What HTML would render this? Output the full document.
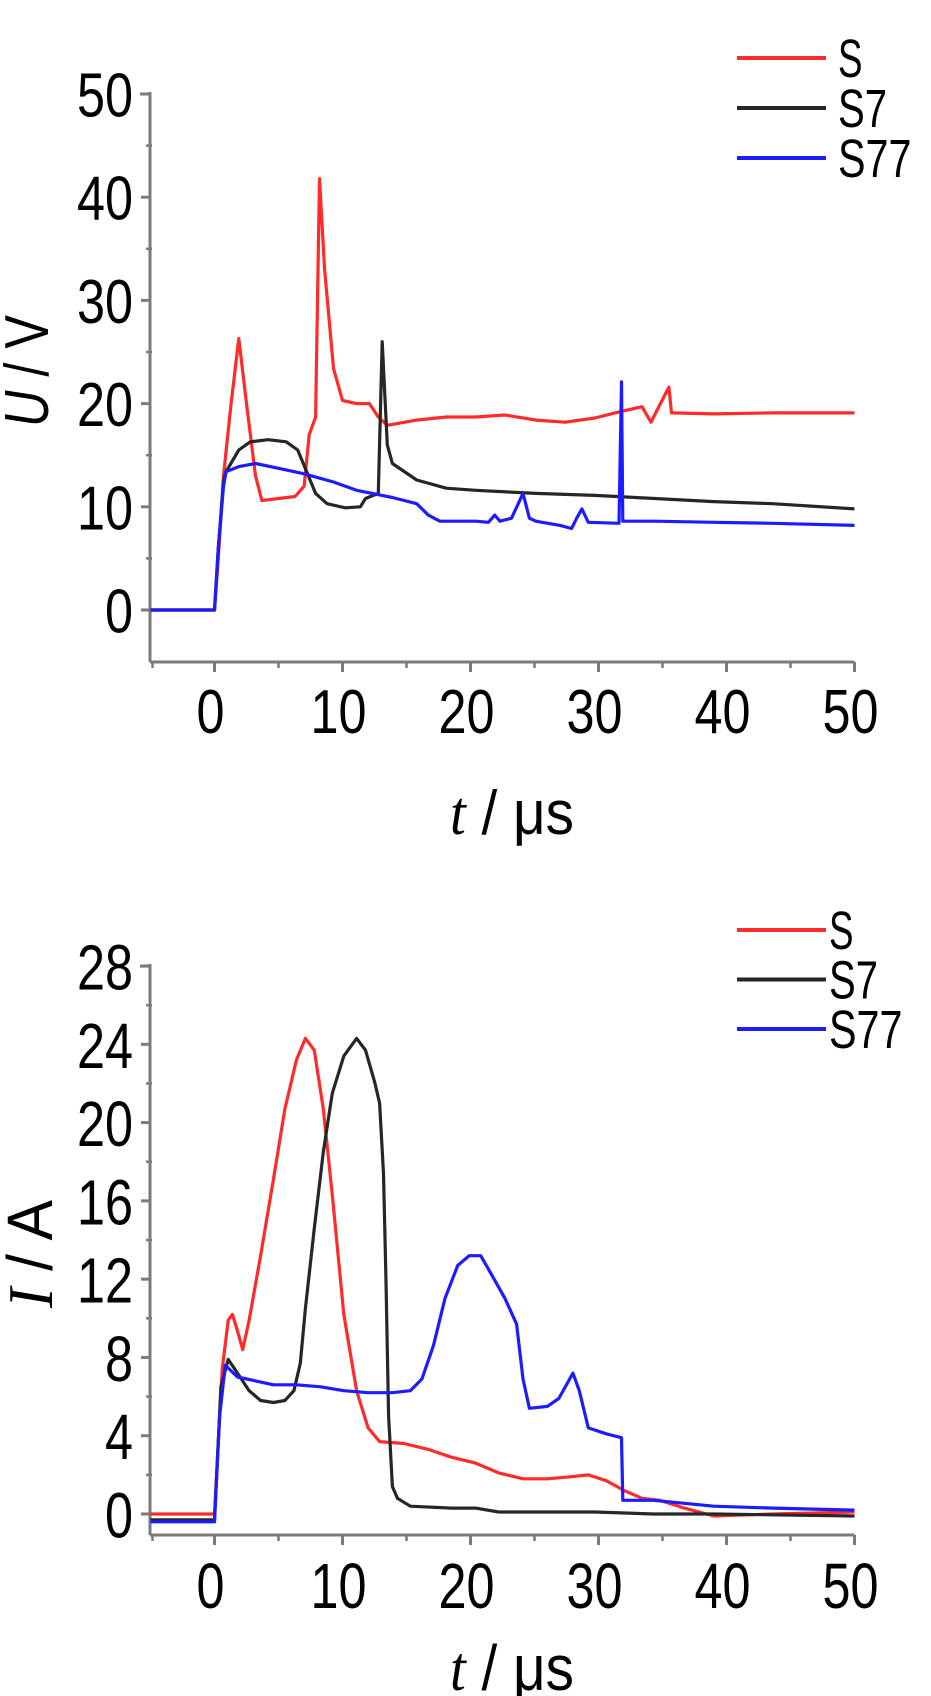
<!DOCTYPE html>
<html><head><meta charset="utf-8"><style>
html,body{margin:0;padding:0;background:#fff;}
svg{display:block;}
text{font-family:"Liberation Sans",sans-serif;fill:#000;}
</style></head><body>
<svg id="chart" width="931" height="1696" viewBox="0 0 931 1696" xmlns="http://www.w3.org/2000/svg"></svg>
<script>
// ---- Top panel data (U / V) ----
const uTicksY = [0,10,20,30,40,50];
const tTicks = [0,10,20,30,40,50];
const uS_t = [-5,0,0.3,0.7,1.3,1.9,2.5,3.2,3.7,5,6.3,7,7.4,7.9,8.2,8.6,9.3,10,11.1,12.1,12.8,13.5,15.8,18.1,20.4,22.7,25.1,27.4,29.7,31.6,33.4,34.1,34.8,35.5,35.7,39,43.6,50];
const uS_v = [0,0,5,13,20,26.3,20,13,10.6,10.8,11,12,17,18.7,41.8,33,23.4,20.3,20,20,18.7,17.9,18.4,18.7,18.7,18.9,18.4,18.2,18.6,19.2,19.7,18.2,19.9,21.6,19.1,19,19.1,19.1];
const uS7_t = [-5,0,0.3,0.7,0.9,1.9,2.8,4.2,5.6,6.5,7.2,7.9,8.8,10.2,11.4,11.8,12.8,13.1,13.5,13.9,15.8,18.1,20.4,25.1,29.7,34.4,39,43.6,50];
const uS7_v = [0,0,6,12.5,13.4,15.5,16.3,16.5,16.3,15.5,13.4,11.3,10.3,9.9,10,10.8,11.3,26,16,14.2,12.6,11.8,11.6,11.3,11.1,10.8,10.5,10.3,9.8];
const uS77_t = [-5,0,0.3,0.7,0.9,1.9,3.2,5.1,7,9.3,11.1,13.9,15.8,16.7,17.6,20.4,21.4,21.9,22.3,23.2,24.1,24.6,25.1,27,27.9,28.3,28.7,29.2,31.6,31.8,31.9,34.4,39,43.6,50];
const uS77_v = [0,0,6,12,13.4,13.9,14.2,13.7,13.2,12.4,11.6,10.9,10.3,9.2,8.6,8.6,8.5,9.2,8.6,8.9,11.3,8.9,8.6,8.2,7.9,8.9,9.8,8.5,8.4,22.1,8.6,8.6,8.5,8.4,8.2];
// ---- Bottom panel data (I / A) ----
const iTicksY = [0,4,8,12,16,20,24,28];
const iS_t = [-5,0,0.6,1.07,1.4,1.77,2.2,2.7,3.6,4.6,5.5,6.4,7.1,7.8,8.5,9.2,10.1,11.1,12,12.9,14.8,16.7,18.5,20.4,22.2,24.1,26,27.8,29.2,30.6,32,33.4,34.8,36.7,39,43.6,50];
const iS_v = [0,0,7.4,9.9,10.2,9.4,8.4,9.9,13.2,17.1,20.7,23.2,24.3,23.7,20.7,16.3,10.2,6.3,4.4,3.7,3.6,3.3,2.9,2.6,2.1,1.8,1.8,1.9,2,1.7,1.2,0.8,0.7,0.3,-0.1,0,0.1];
const iS7_t = [-5,0,0.5,1.07,1.8,2.7,3.6,4.6,5.5,6.2,6.7,7.1,7.8,8.5,9.2,10.1,11.1,11.8,12.5,12.9,13.2,13.4,13.6,13.9,14.3,15.3,18.5,20.4,22.2,29.7,34.3,39,50];
const iS7_v = [-0.3,-0.3,6.5,7.9,7.2,6.3,5.8,5.7,5.8,6.3,7.7,10.5,14.6,18.5,21.5,23.4,24.3,23.7,22.1,21,17.4,11.9,5,1.4,0.8,0.4,0.3,0.3,0.1,0.1,0,0,-0.1];
const iS77_t = [-5,0,0.4,0.84,1.8,3.2,4.6,6.4,8.3,10.1,12,13.9,15.3,16.2,17.1,18,19,19.9,20.8,21.5,22.7,23.6,24.1,24.6,26,26.9,28,28.5,29.2,30.6,31.8,31.9,34.3,39,43.6,50];
const iS77_v = [-0.4,-0.4,5,7.6,7,6.8,6.6,6.6,6.5,6.3,6.2,6.2,6.3,6.9,8.6,11,12.7,13.2,13.2,12.4,11,9.7,6.9,5.4,5.5,5.9,7.2,6.3,4.4,4.1,3.9,0.7,0.7,0.4,0.3,0.2];

const NS='http://www.w3.org/2000/svg';
const svg=document.getElementById('chart');
function mk(tag,attrs,parent){const e=document.createElementNS(NS,tag);for(const k in attrs)e.setAttribute(k,attrs[k]);(parent||svg).appendChild(e);return e;}
const xScale=t=>214.5+t*12.8;

function panel(p){
  const g=mk('g',{});
  
  
  const axc='#7a7a7a';
  const yAx=mk('line',{x1:150,y1:p.y(p.yMax)-2,x2:150,y2:p.axBottom,stroke:axc,'stroke-width':3},g);
  
  
  const xAx=mk('line',{x1:150,y1:p.axBottom,x2:xScale(50),y2:p.axBottom,stroke:axc,'stroke-width':3},g);
  
  
  mk('line',{x1:140,y1:p.y(p.yMax),x2:150,y2:p.y(p.yMax),stroke:axc,'stroke-width':3},g);
  p.ticks.forEach((v,i)=>{
    const y=p.y(v);
    mk('line',{x1:141,y1:y,x2:150,y2:y,stroke:axc,'stroke-width':3},g);
    if(i<p.ticks.length-1){const m=p.y(v+p.step/2);mk('line',{x1:146,y1:m,x2:152,y2:m,stroke:axc,'stroke-width':2.5},g);}
    const s=String(v);
    const t=mk('text',{x:133,y:y+p.cap/2,'text-anchor':'end','font-size':p.fs,textLength:s.length*28,lengthAdjust:'spacingAndGlyphs'},g);
    t.textContent=s;
    
    
  });
  tTicks.forEach((v,i)=>{
    const x=xScale(v);
    mk('line',{x1:x,y1:p.axBottom,x2:x,y2:p.axBottom+10,stroke:axc,'stroke-width':3},g);
    if(i<tTicks.length-1){const m=xScale(v+5);mk('line',{x1:m,y1:p.axBottom,x2:m,y2:p.axBottom+6,stroke:axc,'stroke-width':2.5},g);}
    const s=String(v);
    const t=mk('text',{x:x-4,y:p.xLabBase,'text-anchor':'middle','font-size':p.fs,textLength:s.length*28,lengthAdjust:'spacingAndGlyphs'},g);
    t.textContent=s;
    
    
  });
  mk('line',{x1:xScale(-5)+2,y1:p.axBottom,x2:xScale(-5)+2,y2:p.axBottom+6,stroke:axc,'stroke-width':2.5},g);
  const xt=mk('text',{x:512,y:p.xTitleBase,'text-anchor':'middle','font-size':p.fs,textLength:124,lengthAdjust:'spacingAndGlyphs'},g);
  xt.innerHTML='<tspan font-family="Liberation Serif" font-style="italic">t</tspan> / μs';
  
  
  const yt=mk('text',{x:0,y:0,'text-anchor':'middle','font-size':p.fs,textLength:p.yTitleLen,lengthAdjust:'spacingAndGlyphs',transform:`translate(${p.yTitleX},${p.yTitleY}) rotate(-90)`},g);
  yt.innerHTML=p.yTitle;
  
  
  p.series.forEach(s=>{
    const d=s.t.map((t,i)=>(i?'L':'M')+xScale(t).toFixed(1)+','+p.y(s.v[i]).toFixed(1)).join(' ');
    const path=mk('path',{d:d,fill:'none',stroke:s.c,'stroke-width':3.2,'stroke-linejoin':'round'},g);
    
    
  });
  p.series.forEach((s,i)=>{
    const ly=p.legY+i*p.legDy;
    const lg=mk('g',{},g);
    
    
    mk('line',{x1:737,y1:ly,x2:826,y2:ly,stroke:s.c,'stroke-width':4},lg);
    const t=mk('text',{x:p.legTextX,y:ly+19,'font-size':54,textLength:s.n.length*24.5,lengthAdjust:'spacingAndGlyphs'},lg);
    t.textContent=s.n;
  });
}

panel({name:'voltage-chart',y:v=>610-v*10.32,yMax:50,ticks:uTicksY,step:10,axBottom:662,cap:45,fs:62,
  xLabBase:733,xTitleBase:834,yTitle:'<tspan font-style="italic">U</tspan> / V',yTitleX:48,yTitleY:371,yTitleLen:112,
  legY:58,legDy:50,legTextX:838,
  series:[{n:'S',t:uS_t,v:uS_v,c:'#ff2a2a'},{n:'S7',t:uS7_t,v:uS7_v,c:'#262626'},{n:'S77',t:uS77_t,v:uS77_v,c:'#1c1cff'}]});
panel({name:'current-chart',y:v=>1514-v*19.57,yMax:28,ticks:iTicksY,step:4,axBottom:1535,cap:47,fs:64,
  xLabBase:1608,xTitleBase:1690,yTitle:'<tspan font-family="Liberation Serif" font-style="italic">I</tspan> / A',yTitleX:52,yTitleY:1254,yTitleLen:108,
  legY:930,legDy:49.5,legTextX:829,
  series:[{n:'S',t:iS_t,v:iS_v,c:'#ff2a2a'},{n:'S7',t:iS7_t,v:iS7_v,c:'#262626'},{n:'S77',t:iS77_t,v:iS77_v,c:'#1c1cff'}]});
</script>
</body></html>
